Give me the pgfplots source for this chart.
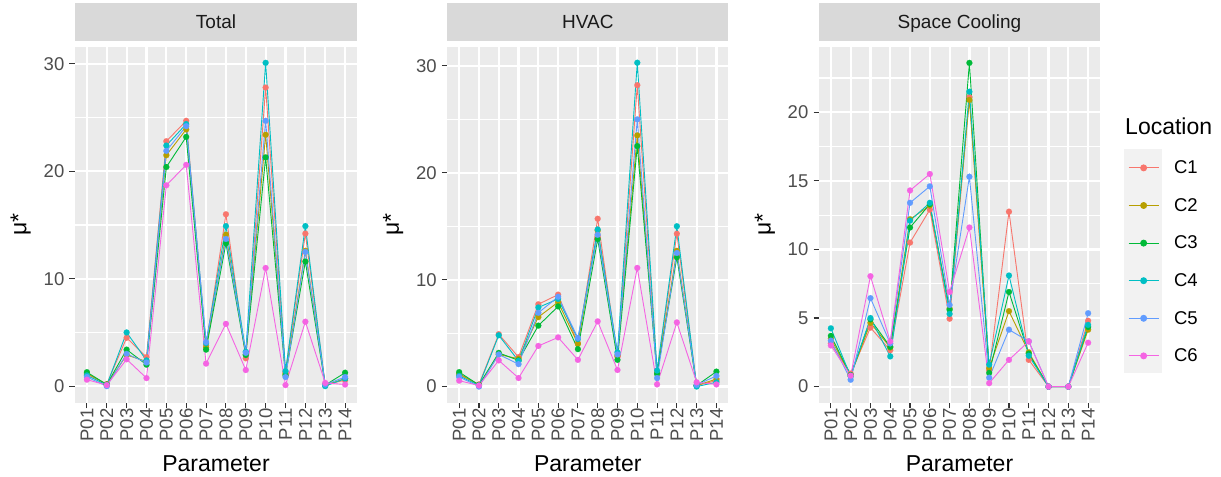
\documentclass[border=0pt]{standalone}
\usepackage{pgfplots}
\usepackage{pgfplotstable}
\pgfplotsset{compat=1.18}
\usepackage{fontspec}
\setmainfont{Liberation Sans}
\definecolor{c1}{HTML}{F8766D}
\definecolor{c2}{HTML}{B79F00}
\definecolor{c3}{HTML}{00BA38}
\definecolor{c4}{HTML}{00BFC4}
\definecolor{c5}{HTML}{619CFF}
\definecolor{c6}{HTML}{F564E3}
\definecolor{gray92}{HTML}{EBEBEB}
\definecolor{gray85}{HTML}{D9D9D9}
\definecolor{gray95}{HTML}{F2F2F2}
\definecolor{gray20}{HTML}{333333}
\definecolor{gray30}{HTML}{4D4D4D}
\definecolor{gray10}{HTML}{1A1A1A}

\pgfplotstableread{
x C1 C2 C3 C4 C5 C6
1 1.1 1.2 1.3 1.0 0.85 0.6
2 0.2 0.15 0.15 0.1 0.0 0.1
3 4.5 2.9 3.4 5.0 3.0 2.5
4 2.7 2.3 2.0 2.4 2.2 0.75
5 22.8 21.5 20.4 22.4 21.9 18.7
6 24.7 23.9 23.2 24.4 24.2 20.6
7 3.8 3.6 3.4 4.0 4.1 2.1
8 16.0 14.1 13.3 14.9 13.7 5.8
9 2.6 2.95 2.9 3.2 3.1 1.5
10 27.8 23.4 21.3 30.1 24.7 11.0
11 1.3 1.15 1.0 1.4 0.85 0.1
12 14.2 12.6 11.6 14.9 12.5 6.0
13 0.15 0.1 0.1 0.0 0.15 0.3
14 0.55 0.7 1.25 0.7 0.85 0.15
}\totaldata

\pgfplotstableread{
x C1 C2 C3 C4 C5 C6
1 1.1 1.2 1.35 1.0 0.9 0.55
2 0.2 0.15 0.15 0.1 0.0 0.1
3 4.9 3.0 3.15 4.8 3.0 2.45
4 2.75 2.6 2.45 2.4 2.1 0.8
5 7.7 6.5 5.7 7.4 6.9 3.8
6 8.6 7.9 7.5 8.2 8.4 4.6
7 4.05 4.0 3.5 4.45 4.55 2.5
8 15.7 14.6 13.8 14.7 14.2 6.1
9 2.8 2.9 2.5 3.2 3.0 1.55
10 28.2 23.5 22.5 30.3 25.0 11.1
11 1.35 1.25 1.2 1.5 0.8 0.2
12 14.3 12.7 12.1 15.0 12.5 6.0
13 0.1 0.1 0.1 0.0 0.15 0.4
14 0.55 0.7 1.4 0.4 1.0 0.2
}\hvacdata

\pgfplotstableread{
x C1 C2 C3 C4 C5 C6
1 3.15 3.5 3.7 4.25 3.35 3.0
2 0.95 0.8 0.85 0.75 0.5 0.8
3 4.3 4.65 4.9 5.0 6.45 8.05
4 2.65 2.85 2.9 2.2 3.15 3.3
5 10.5 12.2 11.6 12.1 13.4 14.3
6 12.9 13.2 13.3 13.4 14.6 15.5
7 4.95 5.7 5.6 5.3 5.95 6.9
8 21.1 20.9 23.6 21.5 15.3 11.6
9 1.2 1.35 1.0 1.6 0.65 0.25
10 12.75 5.5 6.9 8.1 4.15 1.95
11 1.95 2.5 2.4 2.25 3.3 3.3
12 0 0 0 0 0 0
13 0 0 0 0 0 0
14 4.8 4.15 4.35 4.5 5.35 3.2
}\scdata

\pgfplotsset{
  ser/.style={color=#1, line width=0.9bp, mark=none, forget plot},
  pts/.style={color=#1, only marks, mark=*, mark size=3.0bp, mark options={line width=0.1bp}, forget plot},
  panel/.style={
    scale only axis, height=356.1bp,
    xmin=0.4, xmax=14.6,
    xtick={1,...,14},
    xticklabels={P01,P02,P03,P04,P05,P06,P07,P08,P09,P10,P11,P12,P13,P14},
    axis background/.style={fill=gray92},
    axis line style={draw=none},
    grid=both,
    major grid style={white, line width=2.2bp},
    minor grid style={white, line width=1.1bp},
    minor tick length=0bp,
    major tick length=5.5bp,
    tick align=outside,
    xtick pos=bottom, ytick pos=left,
    tick style={color=gray20, line width=1.1bp},
    /pgf/number format/assume math mode=true,
    ticklabel style={font=\fontsize{18.5bp}{20bp}\selectfont, text=gray30, inner sep=0pt},
    yticklabel style={anchor=east, xshift=-5bp},
    xticklabel style={rotate=90, anchor=east, xshift=0bp},
    xlabel={Parameter},
    every axis x label/.style={at={(axis description cs:0.5,0)}, yshift=-68.9bp, anchor=base,
      font=\fontsize{23bp}{26bp}\selectfont, text=black, inner sep=0pt},
    ylabel={μ*},
    every axis y label/.style={at={(axis description cs:0,0.5)}, xshift=-48.5bp, rotate=90, anchor=base,
      font=\fontsize{23bp}{26bp}\selectfont, text=black, inner sep=0pt},
    title style={at={(axis description cs:0.5,1)}, anchor=south, fill=gray85, inner sep=0pt,
      minimum height=37.4bp, text=gray10, font=\fontsize{19bp}{21bp}\selectfont},
    clip=false,
  },
}

\newcommand{\drawseries}[1]{%
  \addplot[ser=c1] table[x=x,y=C1]{#1};
  \addplot[ser=c2] table[x=x,y=C2]{#1};
  \addplot[ser=c3] table[x=x,y=C3]{#1};
  \addplot[ser=c4] table[x=x,y=C4]{#1};
  \addplot[ser=c5] table[x=x,y=C5]{#1};
  \addplot[ser=c6] table[x=x,y=C6]{#1};
  \addplot[pts=c1] table[x=x,y=C1]{#1};
  \addplot[pts=c2] table[x=x,y=C2]{#1};
  \addplot[pts=c3] table[x=x,y=C3]{#1};
  \addplot[pts=c4] table[x=x,y=C4]{#1};
  \addplot[pts=c5] table[x=x,y=C5]{#1};
  \addplot[pts=c6] table[x=x,y=C6]{#1};
}

\begin{document}
\begin{tikzpicture}
\useasboundingbox (0,0) rectangle (1221bp,477bp);

\begin{axis}[panel, at={(75bp,74.2bp)}, anchor=south west, width=282bp,
  ymin=-1.55, ymax=31.6, ytick={0,10,20,30}, minor ytick={5,15,25},
  title={Total}, title style={minimum width=282bp}]
\drawseries{\totaldata}
\end{axis}

\begin{axis}[panel, at={(447.3bp,74.2bp)}, anchor=south west, width=281bp,
  ymin=-1.52, ymax=31.8, ytick={0,10,20,30}, minor ytick={5,15,25},
  title={HVAC}, title style={minimum width=281bp}]
\drawseries{\hvacdata}
\end{axis}

\fill[gray95] (1124bp,104bp) rectangle (1162bp,328bp);
\node[anchor=base west, inner sep=0pt, font=\fontsize{23bp}{26bp}\selectfont] at (1125bp,342.7bp) {Location};

\begin{axis}[panel, at={(819bp,74.2bp)}, anchor=south west, width=281bp,
  ymin=-1.18, ymax=24.78, ytick={0,5,10,15,20}, minor ytick={2.5,7.5,12.5,17.5,22.5},
  title={Space Cooling}, title style={minimum width=281bp, text depth=0pt},
  legend image code/.code={\draw[mark repeat=2,mark phase=2,#1] plot coordinates {(0bp,0bp) (15bp,0bp) (30bp,0bp)};},
  legend style={at={(rel axis cs:1.0996,0.713)}, anchor=north west, draw=none, fill=none,
    inner sep=0pt, row sep=0pt, column sep=15bp,
    font=\fontsize{18.5bp}{20bp}\selectfont,
    nodes={minimum height=37.6bp, inner sep=0pt, anchor=west}},
  legend cell align=left]
\drawseries{\scdata}
\addlegendimage{color=c1, line width=0.9bp, mark=*, mark size=3.0bp}
\addlegendentry{C1}
\addlegendimage{color=c2, line width=0.9bp, mark=*, mark size=3.0bp}
\addlegendentry{C2}
\addlegendimage{color=c3, line width=0.9bp, mark=*, mark size=3.0bp}
\addlegendentry{C3}
\addlegendimage{color=c4, line width=0.9bp, mark=*, mark size=3.0bp}
\addlegendentry{C4}
\addlegendimage{color=c5, line width=0.9bp, mark=*, mark size=3.0bp}
\addlegendentry{C5}
\addlegendimage{color=c6, line width=0.9bp, mark=*, mark size=3.0bp}
\addlegendentry{C6}
\end{axis}
\end{tikzpicture}
\end{document}
